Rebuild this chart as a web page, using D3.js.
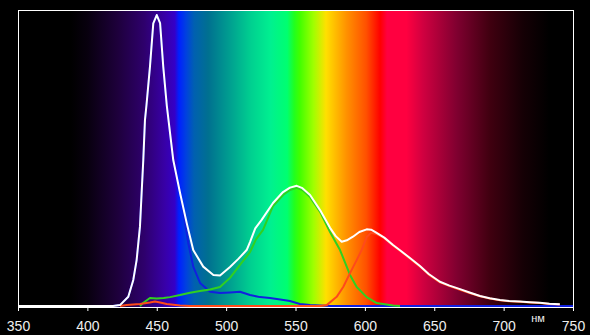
<!DOCTYPE html>
<html>
<head>
<meta charset="utf-8">
<script src="https://cdn.jsdelivr.net/npm/d3@7"></script>
<style>
    body { margin: 0; background: #000; }
    svg { display: block; }
</style>
</head>
<body>
<div id="chart"></div>
<script>
// tick labels along the wavelength axis
const tickValues = [350, 400, 450, 500, 550, 600, 650, 700, 750];
const unitLabel = 'нм';

// measured spectra: [wavelength nm, relative intensity]
const whiteSpectrum = [
    [350, 0], [418.5, 0], [423.5, 0.003], [429.5, 0.031], [433.1, 0.088], [435.5, 0.155],
    [437.9, 0.268], [439.1, 0.382], [440.3, 0.493], [441.5, 0.628], [442.6, 0.679],
    [445.1, 0.808], [447.5, 0.955], [450.0, 0.983], [452.4, 0.956], [454.7, 0.808],
    [457.2, 0.679], [461.9, 0.493], [466.8, 0.382], [471.6, 0.280], [476.3, 0.189],
    [483.5, 0.133], [490.8, 0.105], [495.6, 0.103], [502.8, 0.132], [509.0, 0.160],
    [514.8, 0.189], [517.2, 0.216], [521.0, 0.262], [525.6, 0.291], [533.8, 0.348],
    [541.0, 0.385], [546.0, 0.400], [550.9, 0.406], [555.0, 0.398], [560.5, 0.375],
    [567.7, 0.324], [574.9, 0.264], [579.0, 0.236], [583.3, 0.217], [587.0, 0.222],
    [591.4, 0.234], [596.0, 0.250], [601.3, 0.259], [604.5, 0.258], [608.5, 0.247],
    [614.0, 0.231], [620.3, 0.206], [626.0, 0.186], [632.5, 0.162], [639.7, 0.135],
    [646.0, 0.108], [654.1, 0.082], [661.0, 0.069], [668.6, 0.057], [676.0, 0.045],
    [683.0, 0.034], [690.0, 0.026], [697.4, 0.020], [704.0, 0.017], [711.7, 0.015],
    [719.0, 0.013], [726.1, 0.011], [733.0, 0.008], [740.5, 0.006]
];

const blueSpectrum = [
    [350, 0], [418.5, 0], [423.5, 0.003], [429.5, 0.031], [433.1, 0.088], [435.5, 0.155],
    [437.9, 0.268], [439.1, 0.382], [440.3, 0.493], [441.5, 0.628], [442.6, 0.679],
    [445.1, 0.808], [447.5, 0.955], [450.0, 0.983], [452.4, 0.956], [454.7, 0.808],
    [457.2, 0.679], [461.9, 0.493], [466.8, 0.382], [468.9, 0.324], [472.7, 0.213],
    [476.3, 0.133], [481.2, 0.078], [488.4, 0.048], [495.6, 0.044], [502.8, 0.046],
    [510.0, 0.048], [517.2, 0.037], [524.4, 0.030], [531.6, 0.027], [539.0, 0.022],
    [546.0, 0.017], [553.2, 0.007], [560.5, 0.003], [567.7, 0.002], [575, 0], [750, 0]
];

const greenSpectrum = [
    [437.9, 0], [440.1, 0.010], [445.1, 0.027], [450.0, 0.025], [455.0, 0.027],
    [459.5, 0.030], [466.8, 0.037], [474.0, 0.045], [481.2, 0.051], [488.4, 0.056],
    [495.6, 0.064], [502.8, 0.095], [510.0, 0.139], [517.2, 0.182], [521.5, 0.225],
    [526.6, 0.257], [533.8, 0.338], [541.0, 0.375], [546.0, 0.392], [550.9, 0.399],
    [555.0, 0.392], [560.5, 0.368], [567.7, 0.318], [574.9, 0.250], [582.1, 0.189],
    [589.3, 0.105], [594.1, 0.064], [601.3, 0.030], [608.5, 0.010], [620.3, 0.002],
    [625.3, 0]
];

const redSpectrum = [
    [423.5, 0], [428.3, 0.003], [437.9, 0.007], [445.1, 0.012], [448.7, 0.015],
    [452.4, 0.012], [457.2, 0.007], [466.8, 0.002], [474.0, 0], [567.7, 0],
    [572.5, 0.003], [579.7, 0.031], [584.5, 0.065], [589.3, 0.111], [594.1, 0.155],
    [597.7, 0.189], [601.3, 0.233], [604.4, 0.247], [608.5, 0.243], [614.0, 0.229],
    [620.3, 0.204], [626.0, 0.184], [632.5, 0.160], [639.7, 0.133], [646.0, 0.106],
    [654.1, 0.080], [661.0, 0.067], [668.6, 0.055], [676.0, 0.043], [683.0, 0.033],
    [690.0, 0.025], [697.4, 0.019], [704.0, 0.016], [711.7, 0.014], [719.0, 0.012],
    [726.1, 0.010], [733.0, 0.007], [740.5, 0.005]
];

// background rainbow
const spectrumNm = [350, 388, 400, 422, 441, 456, 463, 466, 471, 477, 487, 503, 518, 532, 544, 549,
    553, 563, 572, 587, 601, 611, 616, 630, 642, 666, 690, 714, 733, 750];
const spectrumColor = ['#000000', '#000000', '#08000e', '#1e003c', '#2e006c', '#3800a8', '#3400c8',
    '#0020ff', '#0040e0', '#0060b0', '#007090', '#00a090', '#00d090', '#00f090', '#00ff70', '#20ff20',
    '#40ff00', '#a0ff00', '#ffe000', '#ff9000', '#ff5000', '#ff0000', '#ff0040', '#ff0040',
    '#d00040', '#800030', '#400010', '#150005', '#000000', '#000000'];

const width = 590, height = 335;
const plotLeft = 18, plotRight = 573, plotTop = 10, plotBottom = 307;

const svg = d3.select('#chart').append('svg')
    .attr('width', width)
    .attr('height', height)
    .style('background', '#000');

const x = d3.scaleLinear().domain([350, 750]).range([plotLeft, plotRight]);
const y = d3.scaleLinear().domain([0, 1]).range([plotBottom - 1, plotTop]);

const defs = svg.append('defs');
const grad = defs.append('linearGradient')
    .attr('id', 'spectrum')
    .attr('gradientUnits', 'userSpaceOnUse')
    .attr('x1', x(350)).attr('x2', x(750))
    .attr('y1', 0).attr('y2', 0);
grad.selectAll('stop')
    .data(spectrumNm)
    .enter()
    .append('stop')
    .attr('offset', d => (d - 350) / 400)
    .attr('stop-color', (d, i) => spectrumColor[i]);

defs.append('clipPath').attr('id', 'plot')
    .append('rect')
    .attr('x', plotLeft).attr('y', plotTop)
    .attr('width', plotRight - plotLeft + 1).attr('height', plotBottom - plotTop);

svg.append('rect')
    .attr('x', plotLeft + 0.5).attr('y', plotTop + 0.5)
    .attr('width', plotRight - plotLeft).attr('height', plotBottom - plotTop)
    .attr('fill', 'url(#spectrum)')
    .attr('stroke', '#fff')
    .attr('stroke-width', 1);

const line = d3.line()
    .x(d => x(d[0]))
    .y(d => y(d[1]));

const curves = svg.append('g').attr('clip-path', 'url(#plot)');
const series = [
    { data: blueSpectrum, color: '#1020e0' },
    { data: greenSpectrum, color: '#30d020' },
    { data: redSpectrum, color: '#ff4a1a' },
    { data: whiteSpectrum, color: '#ffffff' }
];
series.forEach(s => {
    curves.append('path')
        .datum(s.data)
        .attr('d', line)
        .attr('fill', 'none')
        .attr('stroke', s.color)
        .attr('stroke-width', 2)
        .attr('stroke-linejoin', 'round');
});

const axis = svg.append('g')
    .attr('transform', `translate(0,${plotBottom})`)
    .call(d3.axisBottom(x).tickValues(tickValues).tickSize(4).tickPadding(10).tickFormat(d3.format('d')));
axis.select('.domain').attr('stroke', '#fff');
axis.selectAll('.tick line').attr('stroke', '#fff');
axis.selectAll('.tick text')
    .attr('fill', '#eee')
    .style('font-family', '"Liberation Sans Narrow", "Arial Narrow", "Liberation Sans", sans-serif')
    .style('font-size', '14px');

svg.append('text')
    .attr('x', 538).attr('y', 322)
    .attr('text-anchor', 'middle')
    .attr('fill', '#eee')
    .style('font-family', '"Liberation Sans", sans-serif')
    .style('font-size', '11px')
    .text(unitLabel);
</script>
</body>
</html>
